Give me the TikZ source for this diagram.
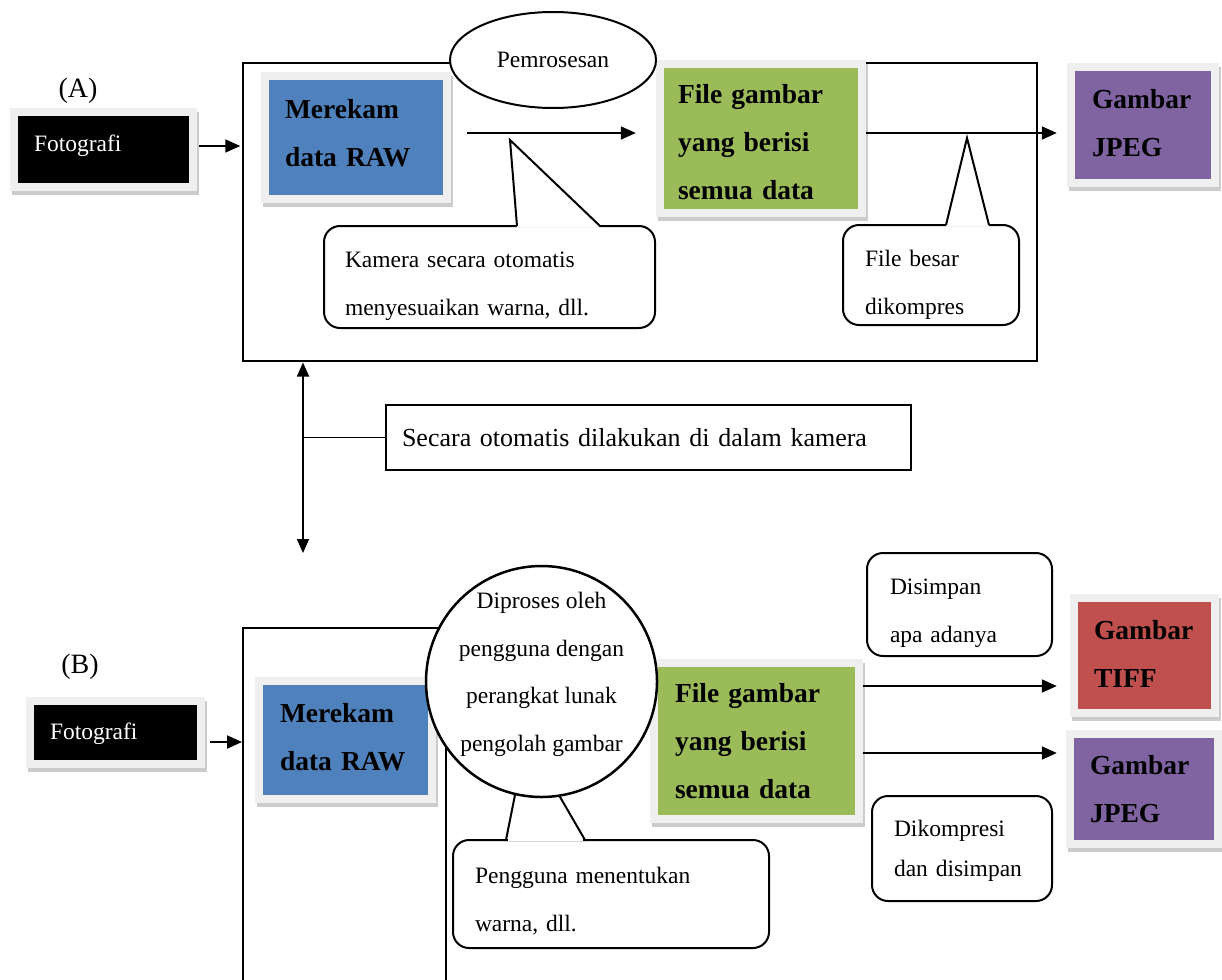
\documentclass[tikz,border=0pt]{standalone}
\usepackage{fontspec}
\setmainfont{Liberation Serif}
\usetikzlibrary{shapes.geometric,arrows.meta,calc}
\definecolor{cblue}{HTML}{4F81BD}
\definecolor{cgreen}{HTML}{9BBB59}
\definecolor{cpurple}{HTML}{8064A2}
\definecolor{cred}{HTML}{C0504D}
\definecolor{framegray}{HTML}{EFEFEF}
\newcommand\fsz[2]{\fontsize{#1}{#2}\selectfont}
\newcommand\mydn[1]{\rule{0pt}{#1}}
\newcommand\myup[1]{\rule[-#1]{0pt}{#1}}
\begin{document}
\begin{tikzpicture}[x=1pt,y=-1pt,
  every node/.style={font=\fsz{23.5}{48}},
  boxframe/.style={preaction={draw=black,draw opacity=0.2,line width=16pt,transform canvas={shift={(2pt,-4pt)}}},
                   preaction={draw=framegray,line width=16pt}},
  cbox/.style={boxframe,fill=#1,draw=none,inner xsep=16pt,inner ysep=0pt,align=left,font=\bfseries\fsz{27.5}{48}},
  callout/.style={draw,fill=white,line width=2pt,rounded corners=16pt,align=left,inner ysep=0pt},
  conn/.style={line width=1.8pt,-{Triangle[length=15pt,width=13pt]}},
  ptr/.style={line width=2pt,line join=miter},
]
\useasboundingbox (0,0) rectangle (1222,979);

% ---------- Section A ----------
\node[draw,line width=2.5pt,minimum width=794pt,minimum height=298pt,inner sep=0pt] (rA) at (640,212) {};
\node[font=\fsz{28}{30}] (labA) at (78,91) {(A)};

\node[cbox=black,text=white,font=\fsz{23.5}{28},minimum width=171pt,minimum height=67pt,text width=139pt] (fA) at (103.5,149.5) {Fotografi\myup{13pt}};
\node[cbox=cblue,minimum width=174pt,minimum height=115pt,text width=142pt] (mA) at (356,137.5) {Merekam\\data RAW\myup{10pt}};
\node[cbox=cgreen,minimum width=194pt,minimum height=141pt,text width=166pt,inner xsep=14pt] (gA) at (761,138.5) {\mydn{27pt}File gambar\\yang berisi\\semua data};
\node[cbox=cpurple,minimum width=136pt,minimum height=108pt,text width=102pt,inner xsep=17pt] (jA) at (1143,125) {Gambar\\JPEG\myup{5pt}};

\node[ellipse,draw,fill=white,line width=2pt,minimum width=206pt,minimum height=96pt,inner sep=0pt] (pA) at (553,60) {Pemrosesan};

\draw[conn,shorten <=10pt,shorten >=1.5pt] ([yshift=3.5pt]fA.east) -- ([yshift=3.5pt]fA.east -| rA.west);
\draw[conn,shorten <=24pt,shorten >=28pt] ([yshift=4.5pt]mA.east) -- ([yshift=4.5pt]mA.east -| gA.west);
\draw[conn,shorten <=8pt,shorten >=18pt] ([yshift=5.5pt]gA.east) -- ([yshift=5.5pt]gA.east -| jA.west);

\node[callout,minimum width=331pt,minimum height=102pt,text width=289pt,inner xsep=21pt] (c1) at (489.5,277) {\mydn{34pt}Kamera secara otomatis\\menyesuaikan warna, dll.};
\fill[white] (517,227.5) -- (510,140) -- (600,227.5) -- cycle;
\draw[ptr] (517,226) -- (510,140) -- (600,226);

\node[callout,minimum width=176pt,minimum height=100pt,text width=132pt,inner xsep=22pt] (c2) at (931,275) {\mydn{36pt}File besar\\dikompres};
\fill[white] (946,226.5) -- (967,138) -- (989,226.5) -- cycle;
\draw[ptr] (946,225) -- (967,138) -- (989,225);

% ---------- middle ----------
\node[draw,line width=1.8pt,minimum width=525pt,minimum height=65pt,text width=493pt,inner xsep=16pt,inner ysep=0pt,align=left,font=\fsz{26}{30}] (sec) at (648.5,437.5) {Secara otomatis dilakukan di dalam kamera};
\coordinate (vt) at (303,362.5);
\coordinate (vb) at (303,553);
\coordinate (vm) at (303,437.5);
\draw[line width=1.8pt,{Triangle[length=14pt,width=12pt]}-{Triangle[length=14pt,width=12pt]}] (vt) -- (vb);
\draw[line width=1.8pt] (vm) -- (sec.west);

% ---------- Section B ----------
\draw[line width=2.2pt] (243,990) -- (243,628) -- (446,628) -- (446,990);
\node[font=\fsz{28}{30}] (labB) at (80,667) {(B)};

\node[cbox=black,text=white,font=\fsz{23.5}{28},minimum width=163pt,minimum height=55pt,text width=131pt] (fB) at (115.5,732.5) {\mydn{20pt}Fotografi};
\coordinate (rBw) at (243,742);
\draw[conn,shorten <=13pt,shorten >=1pt] ([yshift=-9.5pt]fB.east) -- (rBw);

\node[cbox=cblue,minimum width=165pt,minimum height=110pt,text width=131pt,inner xsep=17pt] (mB) at (345.5,740) {Merekam\\data RAW\myup{6pt}};
\node[cbox=cgreen,minimum width=197pt,minimum height=148pt,text width=163pt,inner xsep=17pt] (gB) at (756.5,741) {File gambar\\yang berisi\\semua data};

\node[callout,minimum width=316pt,minimum height=108pt,text width=272pt,inner xsep=22pt] (cB1) at (611,894) {\mydn{30pt}Pengguna menentukan\\warna, dll.};
\fill[white] (516,790) -- (506,841.5) -- (585,841.5) -- (556,790) -- cycle;
\draw[ptr] (516,790) -- (506,840) -- (585,840) -- (556,790);
\draw[line width=2pt,white] (508,840) -- (583,840);

\node[circle,draw,fill=white,line width=2.5pt,minimum size=231pt,inner sep=0pt] (cB) at (541.5,681.5) {};
\node[align=center,font=\fsz{23.5}{47.7},inner sep=0pt] (cBt) at (541.5,674.5) {Diproses oleh\\pengguna dengan\\perangkat lunak\\pengolah gambar};

\node[cbox=cred,minimum width=133pt,minimum height=107pt,text width=101pt] (tB) at (1144.5,655.5) {Gambar\\TIFF\myup{3pt}};
\node[cbox=cpurple,minimum width=140pt,minimum height=102pt,text width=108pt] (jB) at (1144,789) {Gambar\\JPEG};

\draw[conn,shorten <=8pt,shorten >=21pt] ([yshift=55pt]gB.east) -- ([yshift=55pt]gB.east -| tB.west);
\draw[conn,shorten <=8pt,shorten >=17pt] ([yshift=-12pt]gB.east) -- ([yshift=-12pt]gB.east -| jB.west);

\node[callout,minimum width=185pt,minimum height=103pt,text width=139pt,inner xsep=23pt] (dS) at (959.5,604.5) {\mydn{34pt}Disimpan\\apa adanya};
\node[callout,minimum width=180pt,minimum height=105pt,text width=136pt,inner xsep=22pt,font=\fsz{23.5}{40}] (dK) at (962,848.5) {\mydn{20pt}Dikompresi\\dan disimpan};
\end{tikzpicture}
\end{document}
